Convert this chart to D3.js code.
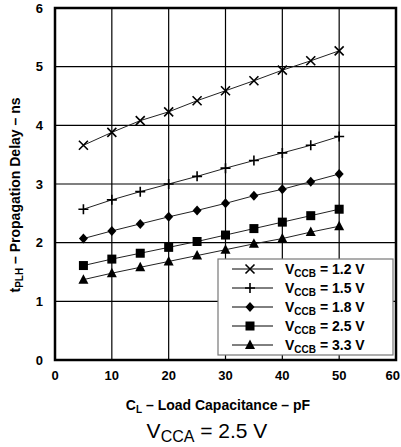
<!DOCTYPE html>
<html>
<head>
<meta charset="utf-8">
<script src="https://cdn.jsdelivr.net/npm/d3@7"></script>
<style>
  body { margin: 0; background: #fff; }
  text { font-family: Arial, "Liberation Sans", sans-serif; }
</style>
</head>
<body>
<div id="chart"></div>
<script>
// Data
const loadCap = [5, 10, 15, 20, 25, 30, 35, 40, 45, 50];
const v12 = [3.66, 3.88, 4.08, 4.23, 4.42, 4.59, 4.76, 4.94, 5.10, 5.27];
const v15 = [2.57, 2.73, 2.87, 3.00, 3.13, 3.27, 3.40, 3.53, 3.66, 3.81];
const v18 = [2.07, 2.20, 2.32, 2.44, 2.55, 2.67, 2.80, 2.91, 3.04, 3.17];
const v25 = [1.61, 1.72, 1.82, 1.92, 2.02, 2.13, 2.24, 2.35, 2.46, 2.57];
const v33 = [1.37, 1.48, 1.58, 1.68, 1.78, 1.88, 1.98, 2.07, 2.18, 2.28];
const seriesNames = ["1.2 V", "1.5 V", "1.8 V", "2.5 V", "3.3 V"];
const xTicks = [0, 10, 20, 30, 40, 50, 60];
const yTicks = [0, 1, 2, 3, 4, 5, 6];

const series = [
  {name: seriesNames[0], values: v12, shape: "x"},
  {name: seriesNames[1], values: v15, shape: "plus"},
  {name: seriesNames[2], values: v18, shape: "diamond"},
  {name: seriesNames[3], values: v25, shape: "square"},
  {name: seriesNames[4], values: v33, shape: "triangle"}
];

const W = 401, H = 447;
const plot = {left: 55, top: 8, right: 396, bottom: 360};

const svg = d3.select("#chart").append("svg")
  .attr("width", W)
  .attr("height", H);

const x = d3.scaleLinear().domain([0, 60]).range([plot.left, plot.right]);
const y = d3.scaleLinear().domain([0, 6]).range([plot.bottom, plot.top]);

// Grid
svg.append("g")
  .selectAll("line")
  .data(xTicks.slice(1, -1))
  .join("line")
  .attr("x1", d => x(d)).attr("x2", d => x(d))
  .attr("y1", plot.top).attr("y2", plot.bottom)
  .attr("stroke", "#000").attr("stroke-width", 1.2);

svg.append("g")
  .selectAll("line")
  .data(yTicks.slice(1, -1))
  .join("line")
  .attr("y1", d => y(d)).attr("y2", d => y(d))
  .attr("x1", plot.left).attr("x2", plot.right)
  .attr("stroke", "#000").attr("stroke-width", 1.2);

// Frame
svg.append("rect")
  .attr("x", plot.left).attr("y", plot.top)
  .attr("width", plot.right - plot.left)
  .attr("height", plot.bottom - plot.top)
  .attr("fill", "none")
  .attr("stroke", "#000")
  .attr("stroke-width", 2.5);

// Tick labels
svg.append("g")
  .selectAll("text")
  .data(yTicks)
  .join("text")
  .attr("x", 43)
  .attr("y", d => y(d) + 4.5)
  .attr("text-anchor", "end")
  .style("font-size", "13px")
  .style("font-weight", "bold")
  .text(d => d);

// last label hugs the right edge so it is not clipped
svg.append("g")
  .selectAll("text")
  .data(xTicks)
  .join("text")
  .attr("x", d => d === 60 ? W - 1 : x(d))
  .attr("y", 380)
  .attr("text-anchor", d => d === 60 ? "end" : "middle")
  .style("font-size", "13px")
  .style("font-weight", "bold")
  .text(d => d);

// Marker shapes
function drawMarker(g, shape, cx, cy) {
  const s = 4.5;
  if (shape === "x") {
    g.append("path")
      .attr("d", `M${cx - s},${cy - s}L${cx + s},${cy + s}M${cx - s},${cy + s}L${cx + s},${cy - s}`)
      .attr("stroke", "#000").attr("stroke-width", 1.6).attr("fill", "none");
  } else if (shape === "plus") {
    g.append("path")
      .attr("d", `M${cx - s - 0.5},${cy}L${cx + s + 0.5},${cy}M${cx},${cy - s - 0.5}L${cx},${cy + s + 0.5}`)
      .attr("stroke", "#000").attr("stroke-width", 1.6).attr("fill", "none");
  } else if (shape === "diamond") {
    g.append("path")
      .attr("d", `M${cx},${cy - 5}L${cx + 4.5},${cy}L${cx},${cy + 5}L${cx - 4.5},${cy}Z`)
      .attr("fill", "#000");
  } else if (shape === "square") {
    g.append("rect")
      .attr("x", cx - 4.5).attr("y", cy - 4.5)
      .attr("width", 9).attr("height", 9)
      .attr("fill", "#000");
  } else {
    g.append("path")
      .attr("d", `M${cx},${cy - 5.5}L${cx + 5},${cy + 4}L${cx - 5},${cy + 4}Z`)
      .attr("fill", "#000");
  }
}

// Series lines and markers
const line = d3.line()
  .x((d, i) => x(loadCap[i]))
  .y(d => y(d));

series.forEach(s => {
  const g = svg.append("g");
  g.append("path")
    .attr("d", line(s.values))
    .attr("fill", "none")
    .attr("stroke", "#222")
    .attr("stroke-width", 1);
  s.values.forEach((v, i) => drawMarker(g, s.shape, x(loadCap[i]), y(v)));
});

// Legend
const legend = svg.append("g");
legend.append("rect")
  .attr("x", 218).attr("y", 259)
  .attr("width", 175).attr("height", 96)
  .attr("fill", "#fff")
  .attr("stroke", "#777")
  .attr("stroke-width", 1.2);

series.forEach((s, i) => {
  const cy = 269 + i * 19;
  legend.append("line")
    .attr("x1", 232).attr("x2", 273)
    .attr("y1", cy).attr("y2", cy)
    .attr("stroke", "#000").attr("stroke-width", 1);
  drawMarker(legend, s.shape, 250, cy);
  const t = legend.append("text")
    .attr("x", 285).attr("y", cy + 5)
    .style("font-size", "14px")
    .style("font-weight", "bold");
  t.append("tspan").text("V");
  t.append("tspan").attr("dy", 3).style("font-size", "10px").text("CCB");
  t.append("tspan").attr("dy", -3).text(" = " + s.name);
});

// Axis titles
const xt = svg.append("text")
  .attr("x", 218).attr("y", 410)
  .attr("text-anchor", "middle")
  .style("font-size", "14px")
  .style("font-weight", "bold");
xt.append("tspan").text("C");
xt.append("tspan").attr("dy", 3).style("font-size", "10px").text("L");
xt.append("tspan").attr("dy", -3).text(" \u2013 Load Capacitance \u2013 pF");

const yt = svg.append("text")
  .attr("transform", "translate(20,195) rotate(-90)")
  .attr("text-anchor", "middle")
  .style("font-size", "14px")
  .style("font-weight", "bold");
yt.append("tspan").text("t");
yt.append("tspan").attr("dy", 3).style("font-size", "10px").text("PLH");
yt.append("tspan").attr("dy", -3).text(" \u2013 Propagation Delay \u2013 ns");

const cap = svg.append("text")
  .attr("x", 207).attr("y", 438)
  .attr("text-anchor", "middle")
  .style("font-size", "21px");
cap.append("tspan").text("V");
cap.append("tspan").attr("dy", 4).style("font-size", "16px").text("CCA");
cap.append("tspan").attr("dy", -4).text(" = 2.5 V");
</script>
</body>
</html>
